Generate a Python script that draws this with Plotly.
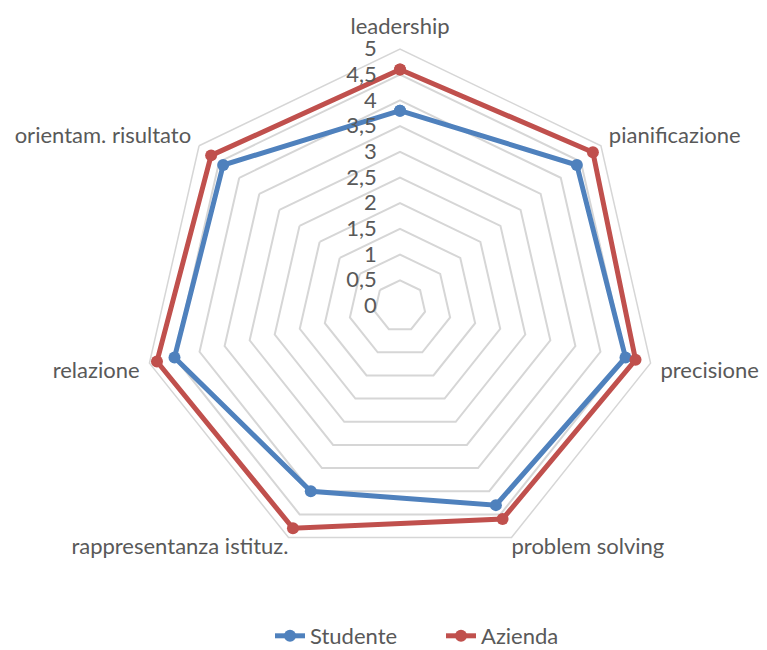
import plotly.graph_objects as go

categories = ["leadership", "pianificazione", "precisione", "problem solving",
              "rappresentanza istituz.", "relazione", "orientam. risultato"]
studente = [3.8, 4.4, 4.5, 4.3, 4.0, 4.5, 4.4]
azienda = [4.6, 4.8, 4.7, 4.6, 4.8, 4.85, 4.7]
tick_vals = [0, 0.5, 1, 1.5, 2, 2.5, 3, 3.5, 4, 4.5, 5]
R_MAX = 5

FONT = "Lato"
FS = 22
GRAY = "#595959"
fig = go.Figure()
for name, vals, color in [("Studente", studente, "#4f81bd"), ("Azienda", azienda, "#c0504d")]:
    fig.add_trace(go.Scatterpolar(
        r=vals + vals[:1], theta=categories + categories[:1], name=name,
        mode="lines+markers",
        line=dict(color=color, width=5),
        marker=dict(color=color, size=12),
    ))

# the two lower category labels sit beside the outer ring's corners, as in the reference
bottom = [categories[3], categories[4]]
fig.add_trace(go.Scatterpolar(
    r=[R_MAX] * len(bottom), theta=bottom, text=bottom, mode="text",
    textposition=["bottom right", "bottom left"],
    textfont=dict(family=FONT, size=FS, color=GRAY),
    marker=dict(size=0), cliponaxis=False, showlegend=False, hoverinfo="skip",
))
ticktext = [c if c not in bottom else "" for c in categories]

# page has an 8px body margin; work in figure coordinates
W, H = 759, 642
cx, cy, R = 392, 298, 257
fig.update_layout(
    width=W, height=H,
    margin=dict(l=0, r=0, t=0, b=0, autoexpand=False),
    paper_bgcolor="white",
    separators=",.",
    font=dict(family=FONT, size=FS, color=GRAY),
    polar=dict(
        domain=dict(x=[(cx - R) / W, (cx + R) / W], y=[(H - cy - R) / H, (H - cy + R) / H]),
        bgcolor="white",
        gridshape="linear",
        radialaxis=dict(range=[0, R_MAX], tickvals=tick_vals, showline=False,
                        ticks="outside", ticklen=15, tickcolor="rgba(0,0,0,0)",
                        side="counterclockwise",
                        gridcolor="#d6d6d6", gridwidth=1.5, angle=90, tickangle=90,
                        tickfont=dict(size=FS, color=GRAY)),
        angularaxis=dict(direction="clockwise", rotation=90, showgrid=False,
                         tickvals=categories, ticktext=ticktext,
                         showline=True, linecolor="#d6d6d6", linewidth=1.5,
                         ticks="outside", ticklen=5, tickcolor="rgba(0,0,0,0)",
                         tickfont=dict(size=FS, color=GRAY)),
    ),
    legend=dict(orientation="h", x=262 / W, xanchor="left", y=1 - 628 / H, yanchor="middle",
                entrywidth=126, entrywidthmode="pixels",
                font=dict(size=FS, color=GRAY)),
)
fig.write_html("out.html")
